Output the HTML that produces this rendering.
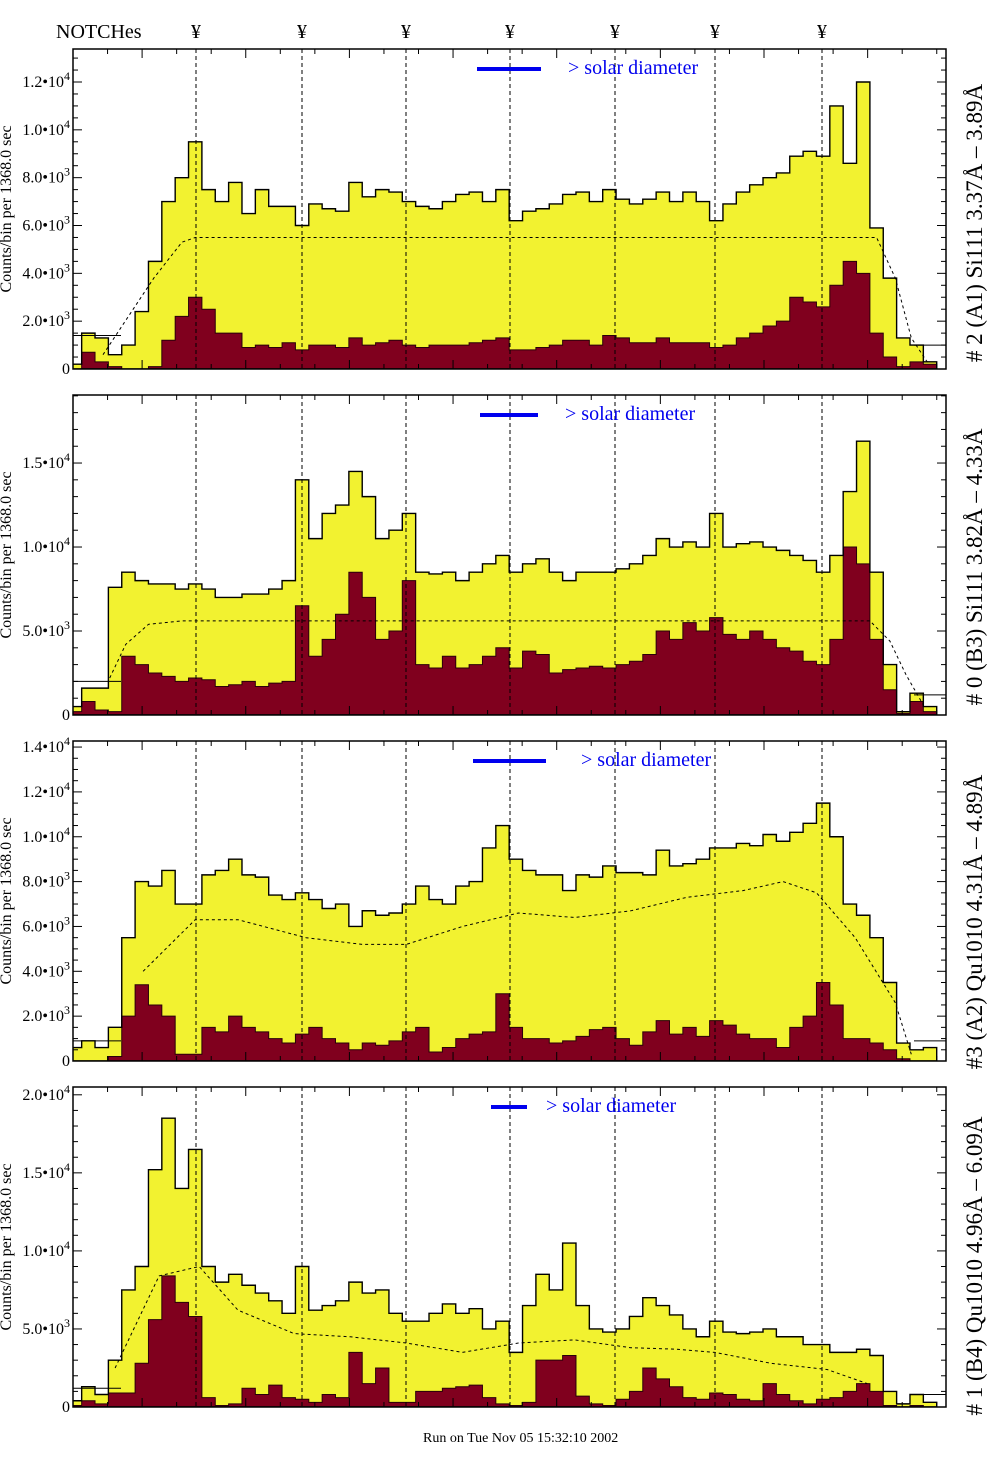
<!DOCTYPE html>
<html><head><meta charset="utf-8"><title>NOTCHes histograms</title>
<style>
html,body{margin:0;padding:0;background:#fff;}
svg{display:block;font-family:"Liberation Serif",serif;}
</style></head>
<body>
<svg id="chart" xmlns="http://www.w3.org/2000/svg" width="1004" height="1476" viewBox="0 0 1004 1476">
<rect x="0" y="0" width="1004" height="1476" fill="#fff"/>
<text x="56" y="38" font-size="20">NOTCHes</text>
<text x="423" y="1442" font-size="14">Run on Tue Nov 05 15:32:10 2002</text>
</svg>
<script>
// values in units of 1e3 counts per bin, 65 bins across each panel
const p1Yellow=[0.2,1.5,1.3,0.6,1.0,2.4,4.5,7.0,8.0,9.5, 7.5,7.0,7.8,6.5,7.5,6.8,6.8,6.0,6.9,6.7, 6.6,7.8,7.2,7.5,7.4,7.0,6.8,6.7,7.0,7.3, 7.4,7.0,7.5,6.2,6.6,6.7,6.9,7.3,7.4,7.0, 7.5,7.1,6.9,7.1,7.4,7.0,7.4,7.0,6.2,6.9, 7.4,7.7,8.0,8.2,8.9,9.1,8.9,11.0,8.6,12.0, 5.9,3.8,1.3,1.0,0.3];
const p1Red=[0,0.7,0.3,0.1,0,0,0.1,1.2,2.2,3.0, 2.5,1.5,1.5,0.9,1.0,0.9,1.1,0.8,1.0,1.0, 0.9,1.3,1.0,1.1,1.2,1.0,0.9,1.0,1.0,1.0, 1.1,1.2,1.3,0.8,0.8,0.9,1.0,1.2,1.2,1.0, 1.4,1.3,1.1,1.1,1.3,1.1,1.1,1.1,0.9,1.0, 1.3,1.5,1.8,2.0,3.0,2.8,2.6,3.5,4.5,4.0, 1.5,0.5,0.1,0.3,0.2];
const p1SmoothBin=[2.1,4,5.9,8,9,60,61.4,62.6,63.9];
const p1SmoothVal=[0.6,2.2,3.8,5.3,5.5,5.5,3.8,1.3,0.2];

const p2Yellow=[0.5,1.6,1.6,7.6,8.5,8.0,7.8,7.8,7.5,7.8, 7.5,7.0,7.0,7.2,7.2,7.5,8.0,14.0,10.5,12.0, 12.5,14.5,13.0,10.5,11.0,12.0,8.5,8.4,8.5,8.0, 8.5,9.0,9.5,8.5,9.0,9.3,8.5,8.0,8.5,8.5, 8.5,8.7,9.0,9.5,10.5,10.0,10.3,10.0,12.0,10.0, 10.2,10.3,10.0,9.8,9.5,9.2,8.5,9.5,13.3,16.3, 8.5,3.0,0.2,1.3,0.5];
const p2Red=[0.2,0.8,0.3,0.2,3.5,3.0,2.5,2.3,2.0,2.2, 2.1,1.7,1.8,2.0,1.7,1.9,2.0,6.5,3.5,4.5, 6.0,8.5,7.0,4.5,5.0,8.0,3.0,2.8,3.5,2.8, 3.0,3.5,4.0,2.8,3.8,3.6,2.5,2.7,2.8,2.9, 2.8,3.0,3.2,3.6,5.0,4.5,5.5,5.0,5.8,4.8, 4.5,5.0,4.5,4.0,3.8,3.2,3.0,4.5,10.0,9.0, 4.5,1.5,0.1,0.8,0.2];
const p2SmoothBin=[2.6,3.8,5.5,8,59.5,61,62.2,63.5];
const p2SmoothVal=[2.2,4.2,5.4,5.6,5.6,4.4,2.4,0.6];

const p3Yellow=[0.6,0.9,0.6,1.5,5.5,8.0,7.8,8.5,7.0,7.0, 8.3,8.5,9.0,8.3,8.2,7.4,7.2,7.5,7.2,6.8, 7.0,6.0,6.7,6.5,6.6,7.0,7.8,7.2,7.0,7.8, 8.0,9.5,10.5,9.0,8.5,8.3,8.3,7.6,8.3,8.2, 8.7,8.4,8.4,8.3,9.4,8.7,8.8,9.0,9.5,9.5, 9.7,9.6,10.1,9.8,10.2,10.6,11.5,10.0,7.0,6.5, 5.5,3.5,0.8,0.5,0.6];
const p3Red=[0,0,0,0.2,2.0,3.4,2.5,2.0,0.3,0.3, 1.5,1.3,2.0,1.5,1.3,1.0,0.8,1.2,1.5,1.0, 0.8,0.5,0.8,0.7,0.9,1.3,1.5,0.4,0.6,1.0, 1.2,1.3,3.0,1.5,1.0,1.0,0.8,0.9,1.1,1.4, 1.5,1.0,0.7,1.3,1.8,1.2,1.5,1.1,1.8,1.6, 1.2,1.0,1.0,0.6,1.5,2.0,3.5,2.5,1.0,1.0, 0.8,0.5,0.1,0,0];
const p3SmoothBin=[5.1,9,12.2,17.3,21.5,24.8,29,33.2,37.4,41.6,45.8,50,53,55.5,58.4,61.4,62.6];
const p3SmoothVal=[4.0,6.3,6.3,5.5,5.2,5.2,6.0,6.6,6.4,6.7,7.3,7.6,8.0,7.5,5.5,2.6,0.3];

const p4Yellow=[0.4,1.3,0.8,3.0,7.5,9.0,15.2,18.5,14.0,16.5, 9.0,8.0,8.5,7.8,7.3,6.8,6.0,9.0,6.2,6.5, 6.8,8.0,7.3,7.5,6.0,5.5,5.5,6.0,6.6,6.0, 6.3,5.0,5.5,3.5,6.5,8.5,7.5,10.5,6.5,5.0, 4.8,5.0,5.8,7.0,6.5,5.9,5.0,4.5,5.5,4.8, 4.7,4.8,5.0,4.5,4.5,4.0,4.0,3.5,3.5,3.7, 3.3,1.0,0.2,0.8,0.3];
const p4Red=[0.1,0.4,0.2,0.9,0.9,2.8,5.6,8.4,6.7,5.8, 0.6,0.1,0.2,1.2,0.8,1.4,0.6,0.5,0.3,0.8, 0.6,3.5,1.5,2.5,0.3,0.3,1.0,1.0,1.2,1.3, 1.4,0.6,0.2,0.1,0.3,3.0,3.0,3.3,0.7,0.2, 0.1,0.5,1.0,2.5,1.8,1.3,0.6,0.5,0.9,0.8, 0.5,0.4,1.5,0.8,0.4,0.2,0.5,0.6,1.0,1.5, 1.0,0.1,0,0.1,0];
const p4SmoothBin=[3,6.3,9.3,12.2,16.4,20.6,24.8,29,33.2,37.4,41.6,45,47.9,52.1,56.3,59.3];
const p4SmoothVal=[2.5,8.4,9.0,6.2,4.7,4.5,4.1,3.5,4.1,4.3,3.8,3.7,3.5,2.8,2.4,1.5];

const p1Ticks=[0,2,4,6,8,10,12];
const p2Ticks=[0,5,10,15];
const p3Ticks=[0,2,4,6,8,10,12,14];
const p4Ticks=[0,5,10,15,20];

const titles=["# 2 (A1) Si111  3.37Å – 3.89Å","# 0 (B3) Si111  3.82Å – 4.33Å","#3 (A2) Qu1010  4.31Å – 4.89Å","# 1 (B4) Qu1010 4.96Å – 6.09Å"];

const NS="http://www.w3.org/2000/svg";
const svg=document.getElementById('chart');
const X0=73, X1=946, H=320, NB=65, BW=13.36, XB=X0-4.7;
const notchX=[196,302,406,510,615,715,822];
function mk(tag,attrs,parent){const e=document.createElementNS(NS,tag);for(const k in attrs)e.setAttribute(k,attrs[k]);(parent||svg).appendChild(e);return e;}

notchX.forEach(function(x){
  const t=mk('text',{x:x,y:38,'font-size':20,'text-anchor':'middle'});
  
  
  t.textContent='¥';
});

const panels=[
 {top:49,ymax:13.38,minor:0.5,yellow:p1Yellow,red:p1Red,sb:p1SmoothBin,sv:p1SmoothVal,ticks:p1Ticks,leg:[477,541,568],tc:223,hl:[1.4,1.0]},
 {top:395,ymax:19.05,minor:1,yellow:p2Yellow,red:p2Red,sb:p2SmoothBin,sv:p2SmoothVal,ticks:p2Ticks,leg:[480,538,565],tc:567,hl:[2.0,1.2]},
 {top:741,ymax:14.27,minor:0.5,yellow:p3Yellow,red:p3Red,sb:p3SmoothBin,sv:p3SmoothVal,ticks:p3Ticks,leg:[473,546,581],tc:922,hl:[0.9,0.9]},
 {top:1087,ymax:20.5,minor:1,yellow:p4Yellow,red:p4Red,sb:p4SmoothBin,sv:p4SmoothVal,ticks:p4Ticks,leg:[491,527,546],tc:1266,hl:[1.2,0.8]}
];

function fmt(v){
  if(v===0) return ['0',''];
  if(v>=10) return [(v/10).toFixed(1)+'•10','4'];
  return [v.toFixed(1)+'•10','3'];
}

const defs=mk('defs',{});
panels.forEach(function(p,pi){
  const cp=mk('clipPath',{id:'clip'+pi},defs);
  mk('rect',{x:X0,y:p.top,width:X1-X0,height:H},cp);
  const g=mk('g',{});
  
  
  const gc=mk('g',{'clip-path':'url(#clip'+pi+')'},g);
  
  
  const bottom=p.top+H;
  const ys=function(v){return bottom-Math.min(v,p.ymax)/p.ymax*H;};
  const xs=function(b){return XB+b*BW;};
  function stepPath(arr){
    let d='M'+XB+','+bottom;
    arr.forEach(function(v,i){d+=' L'+xs(i).toFixed(2)+','+ys(v).toFixed(2)+' L'+xs(i+1).toFixed(2)+','+ys(v).toFixed(2);});
    d+=' L'+xs(arr.length).toFixed(2)+','+bottom+' Z';
    return d;
  }
  const yf=mk('path',{d:stepPath(p.yellow),fill:'#f2f230',stroke:'none'},gc);
  
  
  const rf=mk('path',{d:stepPath(p.red),fill:'#80001e',stroke:'#2a0008','stroke-width':1},gc);
  
  
  const yo=mk('path',{d:stepPath(p.yellow),fill:'none',stroke:'#000','stroke-width':1.4},gc);
  
  
  const hl1=mk('line',{x1:X0,x2:X0+48,y1:ys(p.hl[0]),y2:ys(p.hl[0]),stroke:'#000','stroke-width':1},gc);
  
  
  const hl2=mk('line',{x1:X1-32,x2:X1,y1:ys(p.hl[1]),y2:ys(p.hl[1]),stroke:'#000','stroke-width':1},gc);
  
  
  let pts=p.sb.map(function(b,i){return xs(b+0.5).toFixed(1)+','+ys(p.sv[i]).toFixed(1);}).join(' ');
  const sm=mk('polyline',{points:pts,fill:'none',stroke:'#000','stroke-width':1,'stroke-dasharray':'3,3'},gc);
  
  
  notchX.forEach(function(x){
    const l=mk('line',{x1:x,x2:x,y1:p.top,y2:bottom,stroke:'#000','stroke-width':1,'stroke-dasharray':'4,3'},g);
    
    
  });
  const fr=mk('rect',{x:X0,y:p.top,width:X1-X0,height:H,fill:'none',stroke:'#000','stroke-width':1.5},g);
  
  
  for(let v=0; v<=p.ymax+1e-6; v+=p.minor){
    const isMaj=p.ticks.some(function(t){return Math.abs(t-v)<1e-6;});
    const len=isMaj?9:5;
    const y=ys(v);
    const t1=mk('line',{x1:X0,x2:X0+len,y1:y,y2:y,stroke:'#000','stroke-width':1},g);
    
    
    const t2=mk('line',{x1:X1-len,x2:X1,y1:y,y2:y,stroke:'#000','stroke-width':1},g);
    
    
  }
  p.ticks.forEach(function(v){
    const f=fmt(v);
    const t=mk('text',{x:70,y:ys(v)+5,'font-size':16,'text-anchor':'end'},g);
    
    
    t.textContent=f[0];
    if(f[1]){const s=mk('tspan',{'font-size':12,dy:-7},t);s.textContent=f[1];}
  });
  for(let k=0;k*34.55<=X1-X0+0.5;k++){
    const x=X0+k*34.55;
    const len=((k-2)%3===0)?9:5;
    const a=mk('line',{x1:x,x2:x,y1:p.top,y2:p.top+len,stroke:'#000','stroke-width':1},g);
    
    
    const b=mk('line',{x1:x,x2:x,y1:bottom-len,y2:bottom,stroke:'#000','stroke-width':1},g);
    
    
  }
  const ll=mk('line',{x1:p.leg[0],x2:p.leg[1],y1:p.top+20,y2:p.top+20,stroke:'#0000ee','stroke-width':4},g);
  
  
  const lt=mk('text',{x:p.leg[2],y:p.top+25,'font-size':20,fill:'#0000ee'},g);
  
  
  lt.textContent='> solar diameter';
  const yt=mk('text',{x:0,y:0,'font-size':16,'text-anchor':'middle',transform:'translate(11,'+(p.top+H/2)+') rotate(-90)','xml:space':'preserve'},g);
  
  
  yt.textContent='Counts/bin per   1368.0 sec';
  const rt=mk('text',{x:0,y:0,'font-size':23,'text-anchor':'middle',transform:'translate(982,'+p.tc+') rotate(-90)','xml:space':'preserve'},g);
  
  
  rt.textContent=titles[pi];
});
</script>
</body></html>
